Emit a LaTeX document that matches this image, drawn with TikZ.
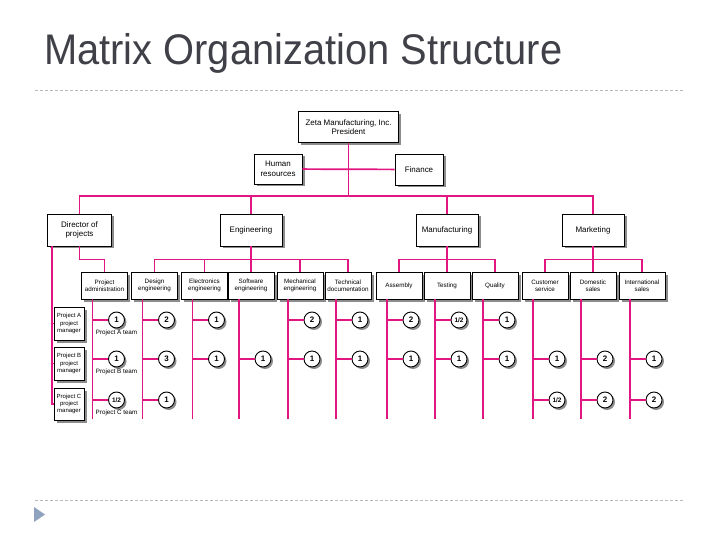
\documentclass[tikz,border=0pt]{standalone}
\usepackage{fontspec}
\setmainfont{Liberation Sans}
\usetikzlibrary{positioning,shadows}
\definecolor{pk}{RGB}{226,22,128}
\definecolor{ttl}{RGB}{64,64,72}
\definecolor{bul}{RGB}{143,163,192}
\newcommand{\halfval}{{\fontsize{6.5}{6.5}\selectfont 1/2}}
\tikzset{
	ln/.style={pk, line width=1.7bp},
	bx/.style={draw, line width=0.9bp, fill=white, align=center, inner sep=1bp,
		drop shadow={shadow xshift=2.5bp, shadow yshift=-2.5bp, fill=black!45, opacity=1},
		font=\fontsize{8}{9.5}\selectfont},
	sm/.style={bx, minimum width=46bp, minimum height=27bp, font=\fontsize{6.3}{7.3}\selectfont},
	pm/.style={bx, minimum width=30bp, minimum height=33bp, font=\fontsize{6}{7.2}\selectfont},
	num/.style={circle, draw, line width=0.9bp, fill=white, minimum size=16bp, inner sep=0pt,
		drop shadow={shadow xshift=2bp, shadow yshift=-2bp, fill=black!45, opacity=1},
		font=\fontsize{8}{8}\selectfont\bfseries},
	lbl/.style={inner sep=1bp, font=\fontsize{6.3}{7}\selectfont},
	dsh/.style={gray!55, dash pattern=on 3bp off 2bp, line width=0.7bp},
}

\begin{document}
\begin{tikzpicture}[x=1bp, y=-1bp]
	\fill[white] (0,0) rectangle (720,540);
	\useasboundingbox (0,0) rectangle (720,540);

	% title and rules
	\node[anchor=base west, inner sep=0pt, ttl, xscale=.93, font=\fontsize{43}{43}\selectfont] (title) at (44,65) {Matrix Organization Structure};
	\draw[dsh] (35,90) -- (685,90);
	\draw[dsh] (35,500) -- (685,500);
	\fill[bul] (34,507) -- (45,514.5) -- (34,522) -- cycle;

	% top of the chart
	\node[bx, minimum width=100bp, minimum height=31bp] (top) at (348.5,127) {Zeta Manufacturing, Inc.\\President};
	\node[bx, minimum width=48bp, minimum height=30bp] (hr) at (278,169) {Human\\resources};
	\node[bx, minimum width=48bp, minimum height=31bp] (fin) at (419,169.5) {Finance};
	\node[bx, minimum width=64bp, minimum height=32bp] (dir) at (79.5,230) {Director of\\projects};
	\node[bx, minimum width=62bp, minimum height=32bp] (eng) at (251,230) {Engineering};
	\node[bx, minimum width=62bp, minimum height=32bp] (mfg) at (447,230) {Manufacturing};
	\node[bx, minimum width=62bp, minimum height=32bp] (mkt) at (593,230) {Marketing};

	% functional groups
	\foreach \n/\x/\t in {adm/104.5/{Project\\administration}, des/154.5/{Design\\engineering},
		ele/204.5/{Electronics\\engineering}, sof/251/{Software\\engineering},
		mec/300/{Mechanical\\engineering}, doc/348/{Technical\\documentation},
		asm/399/Assembly, tst/447/Testing, qua/495/Quality,
		cus/545/{Customer\\service}, dom/593/{Domestic\\sales}, int/642/{International\\sales}}
	{
		\node[sm] (\n) at (\x,285.5) {\t};
		\coordinate (\n-v) at ([xshift=-12bp]\n.south);
		\draw[ln] (\n-v) -- ++(0,120);
	}

	% project managers
	\node[pm] (pma) at (69,323.5) {Project A\\project\\manager};
	\node[pm] (pmb) at (69,363.5) {Project B\\project\\manager};
	\node[pm, minimum height=32bp] (pmc) at (69,404) {Project C\\project\\manager};
	\coordinate (pmv) at ([xshift=5bp]dir.south west);
	\foreach \p in {pma,pmb,pmc}
		\draw[ln] (pmv) |- (\p.west);

	% team members
	\coordinate (rowa) at (0,320);
	\coordinate (rowb) at (0,359);
	\coordinate (rowc) at (0,400);
	\foreach \n/\r/\v in {adm/a/1, des/a/2, ele/a/1, mec/a/2, doc/a/1, asm/a/2, tst/a/\halfval, qua/a/1,
		adm/b/1, des/b/3, ele/b/1, sof/b/1, mec/b/1, doc/b/1, asm/b/1, tst/b/1, qua/b/1,
		cus/b/1, dom/b/2, int/b/1,
		adm/c/\halfval, des/c/1, cus/c/\halfval, dom/c/2, int/c/2}
	{
		\node[num, xshift=12bp] (\n-\r) at (\n.south |- row\r) {\v};
		\draw[ln] (\n-\r) -- (\n-\r -| \n-v);
	}
	\node[lbl, below=0bp of adm-a] (teama) {Project A team};
	\node[lbl, below=0bp of adm-b] (teamb) {Project B team};
	\node[lbl, below=0bp of adm-c] (teamc) {Project C team};

	% connectors
	\coordinate (bus) at (top.south |- 0,196);
	\draw[ln] (top) -- (bus);
	\draw[ln] (hr) -- (fin);
	\draw[ln] (dir) |- (bus) -| (mkt);
	\draw[ln] (eng) -- (eng |- bus);
	\draw[ln] (mfg) -- (mfg |- bus);
	\draw[ln] (dir.south) -- ++(0,13) -| (adm.north);
	\foreach \c in {des,ele,sof,mec,doc}
		\draw[ln] (eng.south) -- ++(0,13) -| (\c.north);
	\foreach \c in {asm,tst,qua}
		\draw[ln] (mfg.south) -- ++(0,13) -| (\c.north);
	\foreach \c in {cus,dom,int}
		\draw[ln] (mkt.south) -- ++(0,13) -| (\c.north);
\end{tikzpicture}
\end{document}
